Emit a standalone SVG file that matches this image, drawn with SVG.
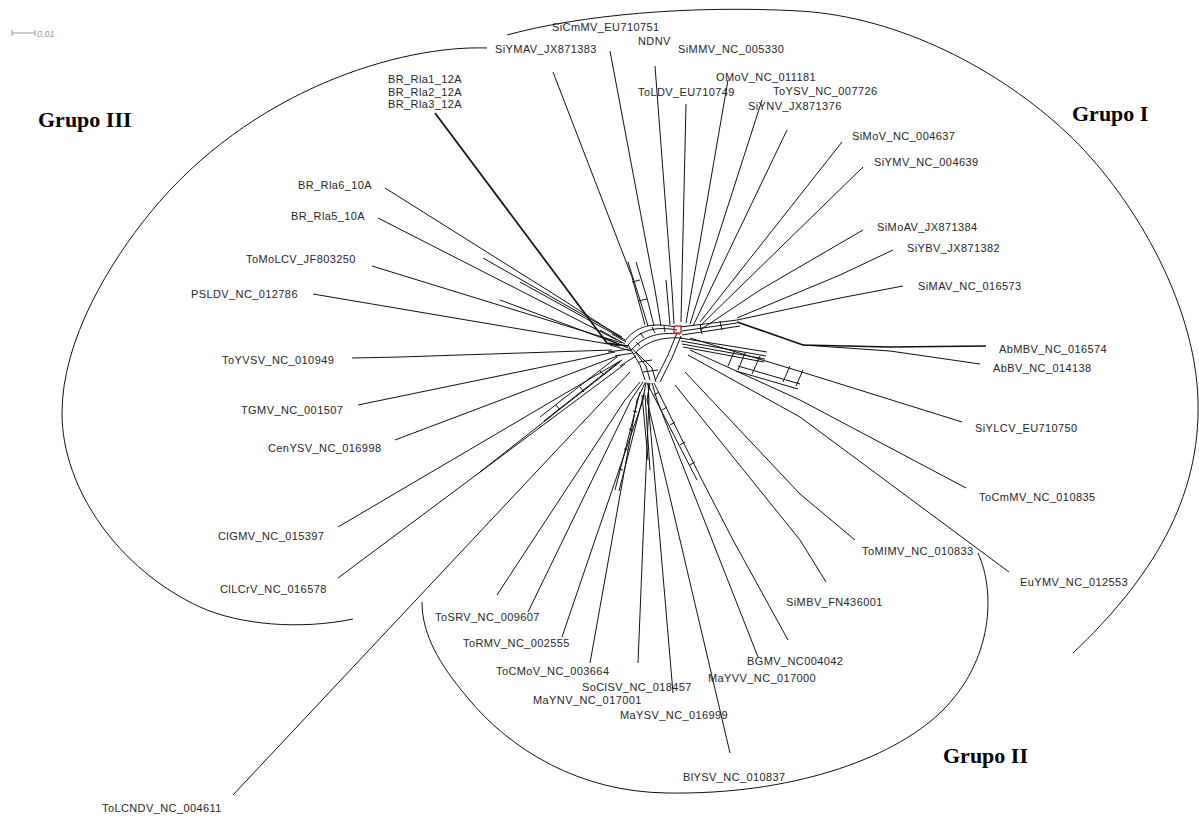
<svg xmlns="http://www.w3.org/2000/svg" width="1199" height="816" viewBox="0 0 1199 816">
<style>
.lb{font-family:"Liberation Sans",Arial,sans-serif;font-size:11px;letter-spacing:0.4px;fill:#262626}
.gr{font-family:"Liberation Serif","Times New Roman",serif;font-size:22px;font-weight:bold;fill:#000}
.e{fill:none;stroke:#111;stroke-width:1;stroke-linejoin:round}
.t{fill:none;stroke:#111;stroke-width:1.7}
.arc{fill:none;stroke:#111;stroke-width:1}
</style>
<rect width="1199" height="816" fill="#fff"/>
<g id="scale">
<path d="M12,33 L35,33 M12,30 L12,36 M35,30 L35,36" stroke="#999" stroke-width="1" fill="none"/>
<text x="37" y="37" font-family="Liberation Sans,Arial,sans-serif" font-size="9" font-style="italic" fill="#999">0.01</text>
</g>
<g id="arcs">
<path class="arc" d="M487,48 C400,45 250,90 150,213 C110,262 62,340 62,413 C62,490 120,570 200,607 C240,625 300,630 353,619"/>
<path class="arc" d="M507,35 C580,15 690,5 800,11 C900,17 1000,70 1067,133 C1130,192 1195,300 1198,400 C1201,500 1150,580 1073,653"/>
<path class="arc" d="M978,553 C995,590 995,660 940,713 C890,760 790,795 667,793 C580,792 510,750 467,697 C440,665 422,635 422,602"/>
</g>
<g id="connectors">
<!-- left leaves -->
<path class="t" d="M435,113 L607,343 L628,346"/>
<path class="e" d="M385,188 L560,298 L625,340"/>
<path class="e" d="M483,258 L622,337 M520,282 L623,339"/>
<path class="e" d="M378,218 L617,340"/>
<path class="e" d="M372,266 L622,343"/>
<path class="e" d="M500,300 L621,345"/>
<path class="e" d="M313,294 L620,346"/>
<path class="e" d="M352,358 L400,357 L612,350"/>
<path class="e" d="M358,405 L615,352"/>
<path class="e" d="M395,440 L620,355"/>
<path class="e" d="M338,527 L622,360"/>
<path class="e" d="M338,578 L625,364"/>
<path class="e" d="M480,472 L620,362"/>
<path class="e" d="M540,417 L617,357 M544,421 L620,361 M556,405 L560,410 M580,387 L584,392 M600,371 L604,375"/>
<path class="e" d="M233,795 L400,617 L630,372"/>
<!-- left hub mesh -->
<path class="e" d="M600,330 L625,344 M605,338 L628,348 M610,345 L631,351 M615,356 L633,353 M620,366 L636,356 M612,334 L626,342 M608,352 L630,349"/>
<path class="e" d="M628,345 C640,330 655,326 677,330 M631,350 C645,335 660,332 680,334 M625,341 C636,326 652,322 675,327 M634,354 C648,340 663,337 682,338"/>
<path class="e" d="M640,333 L644,338 M652,327 L655,333 M664,326 L665,332 M636,342 L640,346"/>
<!-- top leaves -->
<path class="e" d="M553,72 L632,277 L645,325"/>
<path class="e" d="M610,51 L655,290 L661,326"/>
<path class="e" d="M628,262 L640,300 L648,326 M636,262 L647,298 L654,326 M632,282 L640,280 M638,301 L647,299"/>
<path class="e" d="M655,66 L672,290 L674,324"/>
<path class="e" d="M666,280 L670,325"/>
<path class="e" d="M686,104 L681,322"/>
<path class="e" d="M728,80 L686,323"/>
<path class="e" d="M762,100 L690,324"/>
<path class="e" d="M787,130 L693,326"/>
<path class="e" d="M842,142 L700,322"/>
<path class="e" d="M863,167 L700,326"/>
<path class="e" d="M863,230 L760,290 L700,330"/>
<path class="e" d="M893,250 L840,275 L737,318"/>
<path class="e" d="M903,286 L840,298 L737,320"/>
<path class="e" d="M680,327 L737,320 M682,331 L737,323 M682,335 L740,326 M700,324 L702,334 M720,321 L722,330"/>
<path class="t" d="M737,322 L803,345 L890,347 L986,346"/>
<path class="e" d="M890,351 L980,364 M803,345 L890,351"/>
<!-- right lower band -->
<path class="e" d="M680,338 L767,352 M681,341 L766,356 M682,344 L765,359 M683,347 L764,362"/>
<path class="e" d="M962,422 L805,373 L690,338"/>
<path class="e" d="M966,488 L800,400 L690,350"/>
<path class="e" d="M1009,572 L800,417 L688,355"/>
<path class="e" d="M855,540 L800,494 L685,372"/>
<path class="e" d="M735,350 L728,366 M745,353 L738,370 M760,356 L752,374 M790,366 L783,382 M803,370 L796,386 M738,366 L800,384 M736,371 L798,389"/>
<!-- bottom hub mesh -->
<path class="e" d="M628,345 L640,365 L645,380 M632,348 L646,366 L650,380 M636,352 L652,368 L656,382"/>
<path class="e" d="M677,333 L668,355 L655,381 M681,336 L672,358 L660,382"/>
<path class="e" d="M639,362 L652,360 M643,372 L658,370"/>
<!-- bottom leaves -->
<path class="e" d="M497,595 L533,540 L625,400 L640,382"/>
<path class="e" d="M528,612 L563,540 L631,400 L643,382"/>
<path class="e" d="M562,637 L595,540 L643,400 L646,382"/>
<path class="e" d="M590,663 L612,540 L637,400 L645,383"/>
<path class="e" d="M638,663 L643,540 L649,400 L648,383"/>
<path class="e" d="M673,693 L660,540 L648,400 L649,383"/>
<path class="e" d="M730,753 L680,540 L647,400 L650,383"/>
<path class="e" d="M758,657 L712,540 L657,400 L652,383"/>
<path class="e" d="M788,640 L733,540 L702,480 L654,383"/>
<path class="e" d="M647,383 L697,480 M654,395 L659,392 M662,410 L667,407 M670,425 L675,422 M680,445 L685,442 M690,465 L695,462"/>
<path class="e" d="M826,582 L800,540 L675,385"/>
<path class="e" d="M615,490 L640,392 M619,491 L644,393 M623,470 L619,469 M628,450 L624,449 M633,430 L629,429 M637,412 L633,411"/>
<path class="e" d="M642,395 L648,460 M645,395 L650,470"/>
</g>
<rect id="root" x="674" y="326" width="7" height="7" fill="none" stroke="#c03030" stroke-width="1.5"/>
<g id="n-SiCmMV"><text class="lb" x="552" y="31">SiCmMV_EU710751</text></g>
<g id="n-SiYMAV"><text class="lb" x="495" y="53">SiYMAV_JX871383</text></g>
<g id="n-NDNV"><text class="lb" x="638" y="45">NDNV</text></g>
<g id="n-SiMMV"><text class="lb" x="678" y="53">SiMMV_NC_005330</text></g>
<g id="n-OMoV"><text class="lb" x="716" y="81">OMoV_NC_011181</text></g>
<g id="n-ToLDV"><text class="lb" x="638" y="96">ToLDV_EU710749</text></g>
<g id="n-ToYSV"><text class="lb" x="773" y="95">ToYSV_NC_007726</text></g>
<g id="n-SiYNV"><text class="lb" x="748" y="110">SiYNV_JX871376</text></g>
<g id="n-SiMoV"><text class="lb" x="852" y="140">SiMoV_NC_004637</text></g>
<g id="n-SiYMV"><text class="lb" x="874" y="166">SiYMV_NC_004639</text></g>
<g id="n-SiMoAV"><text class="lb" x="877" y="231">SiMoAV_JX871384</text></g>
<g id="n-SiYBV"><text class="lb" x="907" y="252">SiYBV_JX871382</text></g>
<g id="n-SiMAV"><text class="lb" x="918" y="290">SiMAV_NC_016573</text></g>
<g id="n-AbMBV"><text class="lb" x="999" y="353">AbMBV_NC_016574</text></g>
<g id="n-AbBV"><text class="lb" x="993" y="372">AbBV_NC_014138</text></g>
<g id="n-SiYLCV"><text class="lb" x="975" y="432">SiYLCV_EU710750</text></g>
<g id="n-ToCmMV"><text class="lb" x="979" y="501">ToCmMV_NC_010835</text></g>
<g id="n-ToMlMV"><text class="lb" x="862" y="555">ToMIMV_NC_010833</text></g>
<g id="n-EuYMV"><text class="lb" x="1020" y="586">EuYMV_NC_012553</text></g>
<g id="n-SiMBV"><text class="lb" x="786" y="606">SiMBV_FN436001</text></g>
<g id="n-BGMV"><text class="lb" x="747" y="665">BGMV_NC004042</text></g>
<g id="n-MaYVV"><text class="lb" x="708" y="682">MaYVV_NC_017000</text></g>
<g id="n-BlYSV"><text class="lb" x="683" y="781">BlYSV_NC_010837</text></g>
<g id="n-MaYSV"><text class="lb" x="620" y="719">MaYSV_NC_016999</text></g>
<g id="n-SoClSV"><text class="lb" x="582" y="691">SoClSV_NC_018457</text></g>
<g id="n-MaYNV"><text class="lb" x="533" y="704">MaYNV_NC_017001</text></g>
<g id="n-ToCMoV"><text class="lb" x="496" y="675">ToCMoV_NC_003664</text></g>
<g id="n-ToRMV"><text class="lb" x="463" y="647">ToRMV_NC_002555</text></g>
<g id="n-ToSRV"><text class="lb" x="435" y="621">ToSRV_NC_009607</text></g>
<g id="n-ToLCNDV"><text class="lb" x="102" y="812">ToLCNDV_NC_004611</text></g>
<g id="n-ClLCrV"><text class="lb" x="220" y="593">ClLCrV_NC_016578</text></g>
<g id="n-ClGMV"><text class="lb" x="218" y="540">ClGMV_NC_015397</text></g>
<g id="n-CenYSV"><text class="lb" x="268" y="452">CenYSV_NC_016998</text></g>
<g id="n-TGMV"><text class="lb" x="241" y="414">TGMV_NC_001507</text></g>
<g id="n-ToYVSV"><text class="lb" x="222" y="364">ToYVSV_NC_010949</text></g>
<g id="n-PSLDV"><text class="lb" x="191" y="298">PSLDV_NC_012786</text></g>
<g id="n-ToMoLCV"><text class="lb" x="246" y="263">ToMoLCV_JF803250</text></g>
<g id="n-BRRla5"><text class="lb" x="291" y="220">BR_Rla5_10A</text></g>
<g id="n-BRRla6"><text class="lb" x="298" y="189">BR_Rla6_10A</text></g>
<g id="n-BRRla12A"><text class="lb" x="388" y="83">BR_Rla1_12A</text><text class="lb" x="388" y="96">BR_Rla2_12A</text><text class="lb" x="388" y="108">BR_Rla3_12A</text></g>
<g id="grupos">
<text class="gr" x="38" y="127">Grupo III</text>
<text class="gr" x="1072" y="121">Grupo I</text>
<text class="gr" x="943" y="763">Grupo II</text>
</g>
</svg>
